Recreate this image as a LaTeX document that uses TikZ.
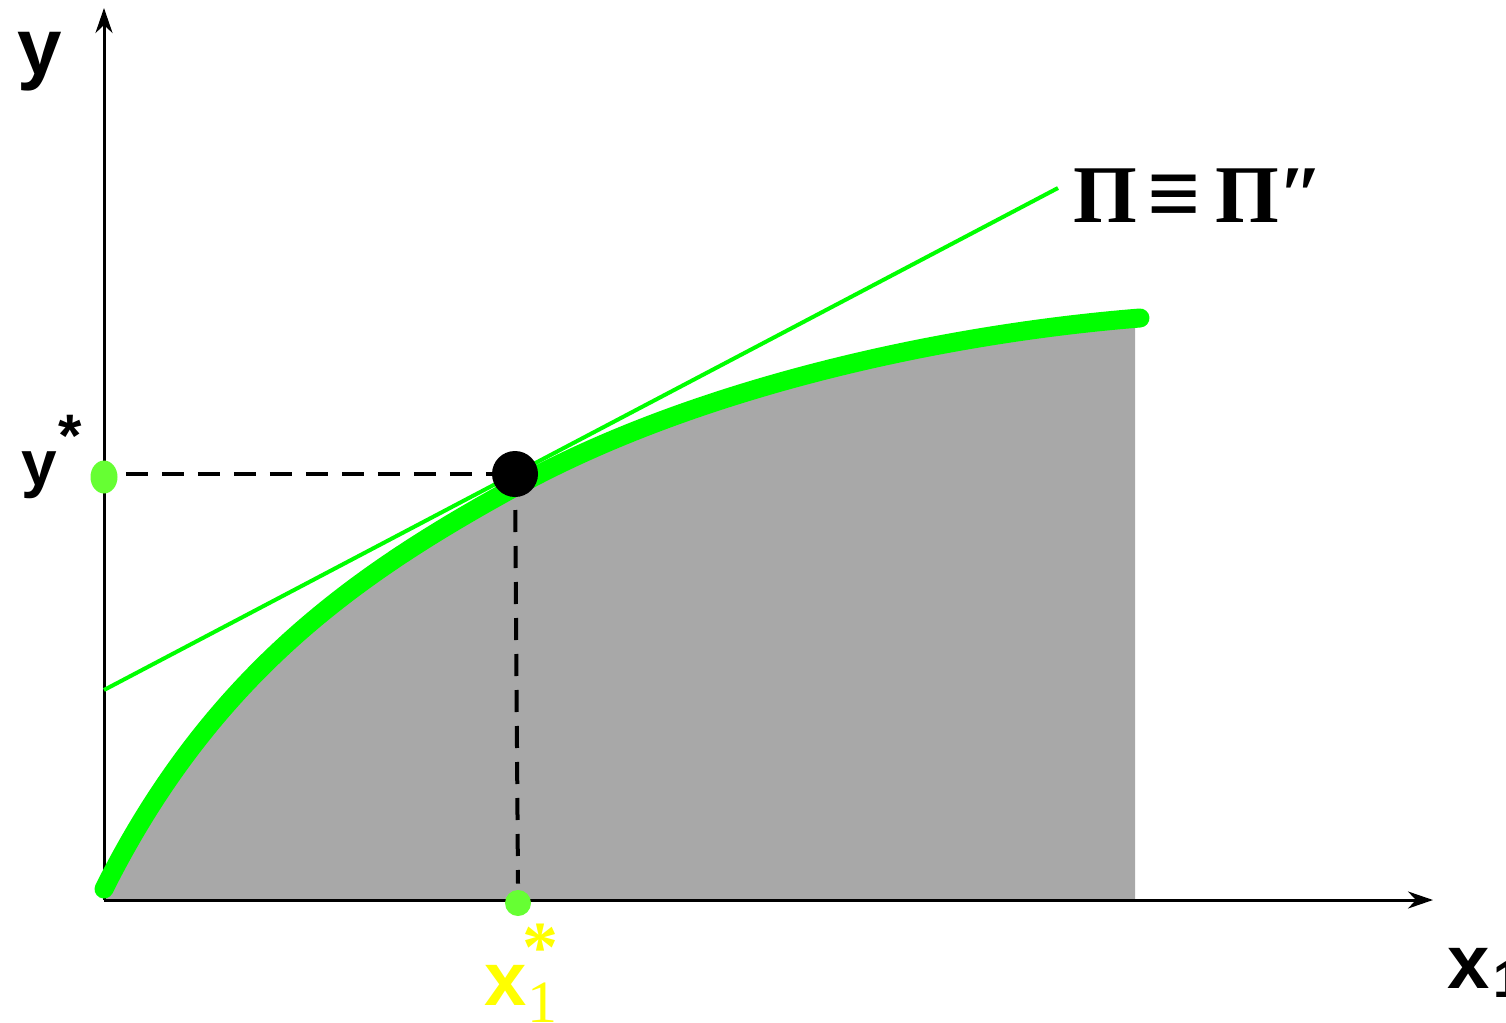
\documentclass[tikz,border=0pt]{standalone}
\usepackage{fontspec}
\setmainfont{Liberation Sans}
\newfontfamily\seriffont{Liberation Serif}
\usetikzlibrary{arrows.meta,shapes.geometric}
\definecolor{curvegreen}{RGB}{0,255,0}
\definecolor{dotgreen}{RGB}{102,255,51}
\definecolor{fillgrey}{RGB}{168,168,168}
\definecolor{yel}{RGB}{255,255,0}
\begin{document}
\begin{tikzpicture}[x=0.5pt,y=-0.5pt,
  axisline/.style={line width=1.5pt,-{Stealth[length=12.5pt,width=8.5pt,inset=4pt]}},
  frontier/.style={curvegreen,line width=9.5pt,line cap=round},
  tangentline/.style={curvegreen,line width=2pt},
  dashline/.style={line width=2pt,dash pattern=on 11pt off 7pt},
  lbl/.style={inner sep=0pt,outer sep=0pt},
  sanslbl/.style={lbl,font=\fontsize{38}{44}\selectfont\bfseries},
  pilbl/.style={lbl,font=\seriffont\fontsize{41}{48}\selectfont\bfseries},
]
\useasboundingbox (0,0) rectangle (1506,1023);
\coordinate (O) at (104,900);
\coordinate (Ytip) at (104,8);
\coordinate (Xtip) at (1433,900);
\coordinate (S) at (104,889);
\coordinate (M) at (515,487);
\coordinate (E) at (1140,318);
\coordinate (T1) at (104,690);
\coordinate (T2) at (1058,188);
\coordinate (P) at (515,474);
% shaded feasible set
\fill[fillgrey] (S) .. controls (214,669) and (365,569.5) .. (M)
  .. controls (695,388) and (940,334) .. (E) -- (1135,320) -- (1135,900) -- (O) -- cycle;
% axes
\draw[axisline] (O) -- (Ytip);
\draw[axisline] (O) -- (Xtip);
% frontier
\draw[frontier] (S) .. controls (214,669) and (365,569.5) .. (M)
  .. controls (695,388) and (940,334) .. (E);
% tangent
\draw[tangentline] (T1) -- (T2);
% dots
\node[ellipse,fill=dotgreen,minimum width=13.5pt,minimum height=16.5pt,inner sep=0pt] (ydot) at (104,477) {};
\node[circle,fill=dotgreen,minimum size=13pt,inner sep=0pt] (xdot) at (518,903) {};
\draw[dashline] ([xshift=4pt]ydot.east |- P) -- (P);
\draw[dashline] (P) -- ([yshift=3pt]xdot.north);
\node[circle,fill=black,minimum size=23pt,inner sep=0pt] (opt) at (P) {};
% labels
\node[sanslbl,font=\fontsize{40}{46}\selectfont\bfseries,anchor=base] (ylab) at (40,74) {y};
\node[sanslbl,font=\fontsize{32}{38}\selectfont\bfseries,anchor=base] (ystar) at (39,485) {y};
\node[lbl,font=\fontsize{30}{36}\selectfont\bfseries] (ystarast) at (70,436) {*};
\node[sanslbl,text=yel,anchor=base] (xstar) at (506,1005) {x};
\node[lbl,text=yel,font=\seriffont\fontsize{30}{36}\selectfont,anchor=base] (xstarsub) at (542,1022) {1};
\node[lbl,text=yel,font=\seriffont\fontsize{36}{40}\selectfont\bfseries] (xstarast) at (540,948) {*};
\node[sanslbl,anchor=base] (xlab) at (1469,988) {x};
\node[lbl,font=\fontsize{26}{30}\selectfont\bfseries,anchor=base west] (xlabsub) at (1493,997) {1};
\node[pilbl,anchor=base west] (pi1) at (1073,222) {Π};
\node[lbl,font=\seriffont\bfseries\fontsize{41}{48}\selectfont] (equiv) at (1174,200) {\scalebox{1.15}{≡}};
\node[pilbl,anchor=base west] (pi2) at (1215,222) {Π″};
\end{tikzpicture}
\end{document}
